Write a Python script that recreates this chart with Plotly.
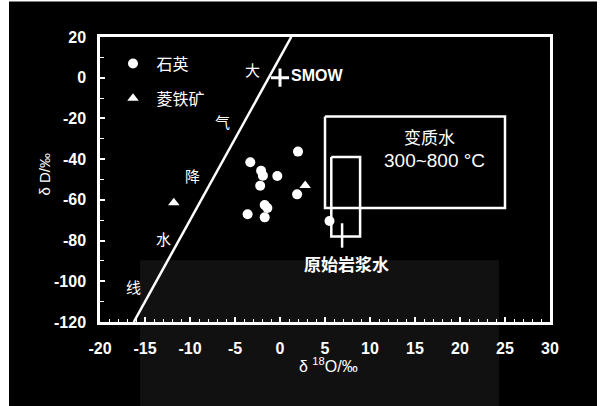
import plotly.graph_objects as go

# ---- data ----
quartz_x = [2.0, -3.3, -2.1, -1.9, -0.3, -2.2, 1.9, -1.7, -1.4, -3.6, -1.7, 5.5]
quartz_y = [-36.3, -41.5, -45.7, -48.1, -48.3, -53.1, -57.3, -62.5, -64.0, -67.1, -68.6, -70.4]
siderite_x = [2.8, -11.8]
siderite_y = [-53.0, -61.4]
smow_x = [0]
smow_y = [0]
mwl_x = [-16.25, 1.25]
mwl_y = [-120, 20]
meta_box_x = [5, 25, 25, 5, 5]
meta_box_y = [-19, -19, -64, -64, -19]
mag_box_x = [5.7, 8.9, 8.9, 5.7, 5.7]
mag_box_y = [-39, -39, -78, -78, -39]
pointer_x = [6.9, 6.9]
pointer_y = [-71.5, -83.5]
mwl_labels = ["大", "气", "降", "水", "线"]
mwl_label_x = [-3.1, -6.4, -9.7, -13.0, -16.3]
mwl_label_y = [3.9, -21.7, -47.8, -78.8, -102.5]
x_ticks = [-20, -15, -10, -5, 0, 5, 10, 15, 20, 25, 30]
x_ticktext = ["-20", "-15", "-10", "-5", "0", "5", "10", "15", "20", "25", "30"]
y_ticks = [20, 0, -20, -40, -60, -80, -100, -120]
y_ticktext = ["20", "0", "-20", "-40", "-60", "-80", "-100", "-120"]

W = "white"
CJK = "Noto Sans CJK SC"
LAT = "Liberation Sans, Arial"

fig = go.Figure()

fig.add_trace(go.Scatter(x=mwl_x, y=mwl_y, mode="lines", line=dict(color=W, width=2.5),
                         showlegend=False, hoverinfo="skip"))
fig.add_trace(go.Scatter(x=meta_box_x, y=meta_box_y, mode="lines", line=dict(color=W, width=2.5),
                         showlegend=False, hoverinfo="skip"))
fig.add_trace(go.Scatter(x=mag_box_x, y=mag_box_y, mode="lines", line=dict(color=W, width=2.5),
                         showlegend=False, hoverinfo="skip"))
fig.add_trace(go.Scatter(x=pointer_x, y=pointer_y, mode="lines", line=dict(color=W, width=2.5),
                         showlegend=False, hoverinfo="skip"))
fig.add_trace(go.Scatter(x=quartz_x, y=quartz_y, mode="markers", name="\u00a0石英",
                         legendgroup="a",
                         marker=dict(symbol="circle", size=10, color=W)))
fig.add_trace(go.Scatter(x=siderite_x, y=siderite_y, mode="markers", name="\u00a0菱铁矿",
                         legendgroup="b",
                         marker=dict(symbol="triangle-up", size=10, color=W)))
fig.add_trace(go.Scatter(x=smow_x, y=smow_y, mode="markers", showlegend=False,
                         marker=dict(symbol="cross-thin", size=13, color=W,
                                     line=dict(color=W, width=3))))

ann = []
for t, x, y in zip(mwl_labels, mwl_label_x, mwl_label_y):
    ann.append(dict(x=x, y=y, text=t, showarrow=False, font=dict(family=CJK, size=15, color=W)))
ann.append(dict(x=1.0, y=1, text="SMOW", xanchor="left", showarrow=False,
                font=dict(family=LAT, size=16, color=W, weight="bold")))
ann.append(dict(x=16.6, y=-29.1, text="变质水", showarrow=False,
                font=dict(family=CJK, size=17, color=W)))
ann.append(dict(x=17.2, y=-40.9, text="300~800 °C", showarrow=False,
                font=dict(family=LAT, size=19, color=W)))
ann.append(dict(x=7.4, y=-91.1, text="原始岩浆水", showarrow=False,
                font=dict(family=CJK, size=17, color=W, weight="bold")))
ann.append(dict(x=(34 - 100) / 450, y=(321.6 - 174) / 284.2, xref="paper", yref="paper",
                text="δ D/‰", textangle=-90,
                showarrow=False, font=dict(family=LAT, size=15, color=W)))
ann.append(dict(x=(328 - 100) / 450, y=(321.6 - 376) / 284.2, xref="paper", yref="paper",
                text="δ <sup>18</sup>O/‰",
                showarrow=False, font=dict(family=LAT, size=16, color=W)))

shapes = [
    dict(type="rect", xref="paper", yref="paper", x0=(9 - 100) / 450, x1=(597 - 100) / 450,
         y0=-0.32, y1=(321.6 - 2) / 284.2, fillcolor="black", line=dict(width=0), layer="below"),
    dict(type="rect", xref="paper", yref="paper", x0=(140 - 100) / 450, x1=(499 - 100) / 450,
         y0=-0.32, y1=(321.6 - 260) / 284.2, fillcolor="#111111", line=dict(width=0), layer="below"),
]

axis_common = dict(showgrid=False, zeroline=False, showline=True, linecolor=W, linewidth=2.5,
                   mirror=True, ticks="inside", tickcolor=W, ticklen=5, tickwidth=1.5,
                   tickfont=dict(family=LAT, size=16, color=W, weight="bold"))

fig.update_layout(
    width=603, height=406,
    margin=dict(l=100, r=53, t=37, b=84),
    paper_bgcolor="white", plot_bgcolor="rgba(0,0,0,0)",
    xaxis=dict(range=[-20, 30], tickvals=x_ticks, ticktext=x_ticktext, ticklabelstandoff=10,
               minor=dict(dtick=1, ticks="inside", ticklen=3, tickcolor=W, tickwidth=1.2),
               **axis_common),
    yaxis=dict(range=[-120, 20], tickvals=y_ticks, ticktext=y_ticktext, ticklabelstandoff=8,
               minor=dict(dtick=10, ticks="inside", ticklen=4, tickcolor=W, tickwidth=1.2),
               **axis_common),
    legend=dict(x=(113 - 100) / 450, y=(321.6 - 47) / 284.2, xanchor="left", yanchor="top",
                bgcolor="rgba(0,0,0,0)", font=dict(family=CJK, size=16, color=W),
                traceorder="grouped", tracegroupgap=11),
    annotations=ann, shapes=shapes, showlegend=True,
)

fig.write_html("out.html", config={"displayModeBar": False},
               post_script="document.body.style.margin='0px';document.body.style.overflow='hidden';")
